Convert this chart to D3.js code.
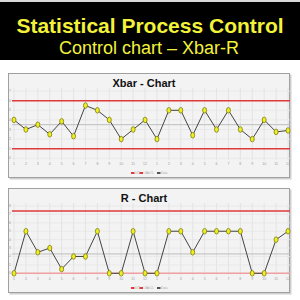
<!DOCTYPE html>
<html>
<head>
<meta charset="utf-8">
<script src="https://cdn.jsdelivr.net/npm/d3@7.9.0/dist/d3.min.js"></script>
<style>
  html, body { margin: 0; padding: 0; background: #fff; }
  svg { display: block; font-family: "Liberation Sans", Arial, sans-serif; }
</style>
</head>
<body>
<svg id="chart" width="300" height="300"></svg>
<script>
// Subgroup numbers
const samples = d3.range(1, 25);

// Xbar chart values
const xbarValues = [4, 3, 3.5, 2.5, 3.85, 2.3, 5.5, 5, 4, 2, 3, 4, 2, 5, 5, 2.4, 5, 3, 5, 3, 2, 4, 2.75, 2.9];
const xbarLimits = { ucl: 6, cl: 3.5, lcl: 1 };
const xbarTicks = d3.range(0, 8);

// R chart values
const rValues = [0, 5, 2.5, 3, 0.5, 2, 2, 5, 0, 0, 5, 0, 0, 5, 5, 2.5, 5, 5, 5, 5, 0, 0, 4, 5];
const rLimits = { ucl: 7.4, cl: 2.3, lcl: 0 };
const rTicks = d3.range(0, 9);

const legendLabels = ['UCL', 'LCL', 'CL', 'Data'];

const svg = d3.select('#chart');

// Header
svg.append('rect').attr('x', 0).attr('y', 0).attr('width', 300).attr('height', 2).attr('fill', '#d8d8d8');
svg.append('rect').attr('x', 0).attr('y', 2).attr('width', 300).attr('height', 58).attr('fill', '#000');
svg.append('text')
  .attr('x', 150).attr('y', 33)
  .attr('text-anchor', 'middle')
  .attr('font-size', 21).attr('font-weight', 'bold')
  .attr('fill', '#f2f23a')
  .text('Statistical Process Control');
svg.append('text')
  .attr('x', 149).attr('y', 54)
  .attr('text-anchor', 'middle')
  .attr('font-size', 18)
  .attr('fill', '#f2f23a')
  .text('Control chart – Xbar-R');

function drawPanel(opts) {
  const { top, bottom, title, titleY, values, limits, ticks, yTop, yBottom, lclColor } = opts;
  const g = svg.append('g');

  // panel frame
  g.append('rect')
    .attr('x', 9.5).attr('y', top + 1.5)
    .attr('width', 282).attr('height', bottom - top)
    .attr('fill', '#cfcfcf');
  g.append('rect')
    .attr('x', 8.5).attr('y', top + 0.5)
    .attr('width', 281).attr('height', bottom - top - 1)
    .attr('fill', '#f3f3f3').attr('stroke', '#a0a0a0').attr('stroke-width', 1);

  const x = d3.scalePoint().domain(samples).range([14, 288]);
  const y = d3.scaleLinear().domain([0, ticks[ticks.length - 1]]).range([yBottom, yTop]);

  // grid
  g.selectAll('.vg').data(samples).join('line')
    .attr('x1', d => x(d)).attr('x2', d => x(d))
    .attr('y1', yTop - 3).attr('y2', yBottom + 2)
    .attr('stroke', '#e0e0e0').attr('stroke-width', 0.8);
  g.selectAll('.hg').data(ticks).join('line')
    .attr('x1', 12).attr('x2', 290)
    .attr('y1', d => y(d)).attr('y2', d => y(d))
    .attr('stroke', '#e6e6e6').attr('stroke-width', 0.8);

  // tick labels
  g.selectAll('.yl').data(ticks).join('text')
    .attr('x', 10).attr('y', d => y(d) + 1)
    .attr('text-anchor', 'middle')
    .attr('font-size', 3.5).attr('fill', '#999')
    .text(d => d);
  g.selectAll('.xl').data(samples).join('text')
    .attr('x', d => x(d)).attr('y', yBottom + 7)
    .attr('text-anchor', 'middle')
    .attr('font-size', 3.5).attr('fill', '#999')
    .text(d => d > 12 ? d - 12 : d);

  // title
  g.append('text')
    .attr('x', 144).attr('y', titleY)
    .attr('text-anchor', 'middle')
    .attr('font-size', 11).attr('font-weight', 'bold')
    .attr('fill', '#111')
    .text(title);

  // control lines
  g.append('line').attr('x1', 12).attr('x2', 290)
    .attr('y1', y(limits.cl)).attr('y2', y(limits.cl))
    .attr('stroke', '#bdbdbd').attr('stroke-width', 1);
  g.append('line').attr('x1', 12).attr('x2', 290)
    .attr('y1', y(limits.ucl)).attr('y2', y(limits.ucl))
    .attr('stroke', '#e03a3a').attr('stroke-width', 1.5);
  g.append('line').attr('x1', 12).attr('x2', 290)
    .attr('y1', y(limits.lcl)).attr('y2', y(limits.lcl))
    .attr('stroke', lclColor).attr('stroke-width', 1.5);

  // data line
  const line = d3.line().x((d, i) => x(samples[i])).y(d => y(d));
  g.append('path').datum(values)
    .attr('d', line)
    .attr('fill', 'none')
    .attr('stroke', '#444').attr('stroke-width', 1);

  g.selectAll('.pt').data(values).join('ellipse')
    .attr('cx', (d, i) => x(samples[i])).attr('cy', d => y(d))
    .attr('rx', 2).attr('ry', 2.8)
    .attr('fill', '#eeee22').attr('stroke', '#6e6e10').attr('stroke-width', 0.7);

  // legend
  const legendColors = ['#e03a3a', '#e03a3a', '#c8c8c8', '#555'];
  const ly = bottom - 5;
  const lx = [131, 139.5, 146, 157];
  legendLabels.forEach((lab, i) => {
    g.append('rect')
      .attr('x', lx[i]).attr('y', ly - 1)
      .attr('width', 3.5).attr('height', 2)
      .attr('fill', legendColors[i]);
    g.append('text')
      .attr('x', lx[i] + 4).attr('y', ly + 1)
      .attr('font-size', 3).attr('fill', '#aaa')
      .text(lab);
  });
}

drawPanel({
  top: 73, bottom: 178, title: 'Xbar - Chart', titleY: 87,
  values: xbarValues, limits: xbarLimits, ticks: xbarTicks,
  yTop: 91.1, yBottom: 158.3, lclColor: '#e03a3a'
});

drawPanel({
  top: 188, bottom: 293, title: 'R - Chart', titleY: 202,
  values: rValues, limits: rLimits, ticks: rTicks,
  yTop: 206, yBottom: 273.3, lclColor: '#f0a0a0'
});
</script>
</body>
</html>
